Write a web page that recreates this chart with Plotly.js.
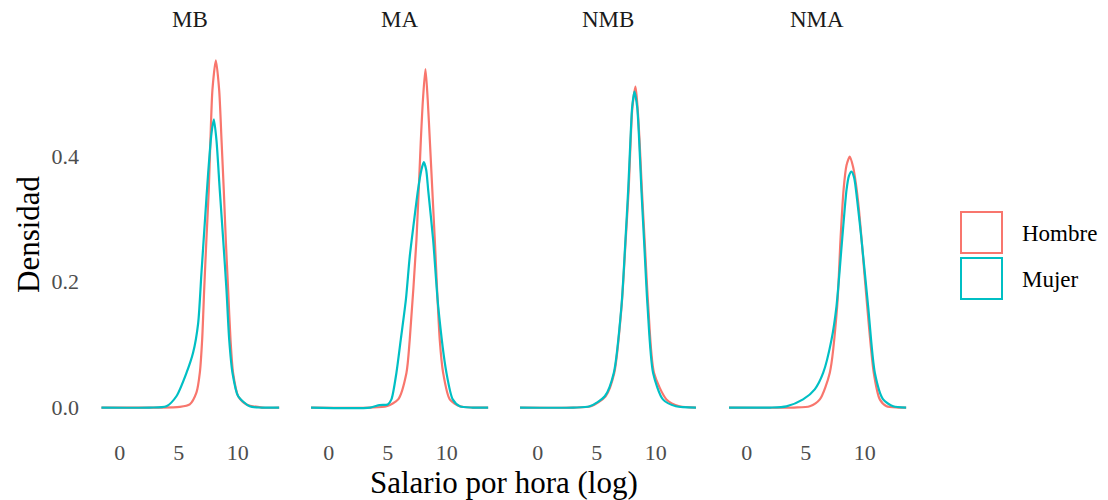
<!DOCTYPE html>
<html><head><meta charset="utf-8">
<script src="https://cdn.plot.ly/plotly-3.0.1.min.js"></script>
<style>html,body{margin:0;padding:0;background:#fff}#chart{width:1108px;height:500px}</style>
</head><body><div id="chart"></div>
<script>
const facets = ["MB", "MA", "NMB", "NMA"];
const groups = ["Hombre", "Mujer"];
const colors = {Hombre: "#F8766D", Mujer: "#00BFC4"};
const xTicks = [0, 5, 10];
const yTicks = [0, 0.2, 0.4];
const yTickLabels = ["0.0", "0.2", "0.4"];

// MB
const mbHombreX = [-1.55, 3.0, 5.08, 5.93, 6.5, 6.78, 6.98, 7.15, 7.34, 7.54, 7.68, 7.85, 8.14, 8.42, 8.62, 8.81, 8.98, 9.18, 9.38, 9.6, 10.03, 10.73, 12.1, 13.5];
const mbHombreY = [0, 0, 0.001, 0.005, 0.024, 0.055, 0.108, 0.187, 0.267, 0.346, 0.425, 0.505, 0.552, 0.505, 0.425, 0.346, 0.267, 0.187, 0.108, 0.055, 0.018, 0.005, 0, 0];
const mbMujerX = [-1.55, 2.5, 3.95, 4.8, 5.65, 6.21, 6.64, 6.92, 7.2, 7.49, 7.77, 7.97, 8.19, 8.47, 8.76, 9.04, 9.27, 9.55, 10.03, 11.0, 12.0, 13.5];
const mbMujerY = [0, 0, 0.002, 0.018, 0.055, 0.087, 0.134, 0.214, 0.293, 0.373, 0.436, 0.458, 0.425, 0.346, 0.267, 0.187, 0.108, 0.055, 0.018, 0.002, 0, 0];
// MA
const maHombreX = [-1.5, 3.5, 4.9, 5.88, 6.58, 6.86, 7.43, 7.8, 7.98, 8.19, 8.38, 8.56, 8.98, 9.4, 9.69, 10.25, 11.1, 12.2, 13.5];
const maHombreY = [0, 0, 0.002, 0.013, 0.055, 0.108, 0.267, 0.425, 0.49, 0.538, 0.49, 0.425, 0.267, 0.108, 0.055, 0.013, 0.002, 0, 0];
const maMujerX = [-1.5, 3.5, 4.3, 5.0, 5.31, 5.73, 6.1, 6.53, 6.86, 7.2, 7.56, 7.85, 8.05, 8.25, 8.42, 8.84, 9.27, 9.97, 10.5, 11.1, 12.2, 13.5];
const maMujerY = [0, 0, 0.004, 0.005, 0.013, 0.055, 0.108, 0.171, 0.24, 0.293, 0.346, 0.378, 0.39, 0.378, 0.346, 0.267, 0.161, 0.055, 0.013, 0.002, 0, 0];
// NMB
const nmbHombreX = [-1.5, 3.0, 4.5, 5.75, 6.48, 7.1, 7.45, 7.7, 7.87, 8.02, 8.28, 8.45, 8.62, 8.82, 9.05, 9.36, 9.85, 10.9, 12.0, 13.4];
const nmbHombreY = [0, 0, 0.002, 0.018, 0.055, 0.161, 0.267, 0.346, 0.425, 0.478, 0.51, 0.478, 0.425, 0.346, 0.267, 0.161, 0.055, 0.013, 0.002, 0];
const nmbMujerX = [-1.5, 3.0, 4.4, 5.68, 6.44, 7.09, 7.43, 7.66, 7.85, 8.0, 8.19, 8.42, 8.59, 8.78, 9.0, 9.3, 9.77, 10.6, 11.7, 13.4];
const nmbMujerY = [0, 0, 0.002, 0.018, 0.055, 0.161, 0.267, 0.346, 0.425, 0.478, 0.502, 0.478, 0.425, 0.346, 0.267, 0.161, 0.055, 0.013, 0.002, 0];
// NMA
const nmaHombreX = [-1.5, 4.0, 5.34, 6.19, 7.03, 7.66, 7.94, 8.2, 8.45, 8.73, 9.0, 9.25, 9.5, 9.75, 10.2, 10.76, 11.27, 11.84, 12.8, 13.5];
const nmaHombreY = [0, 0, 0.002, 0.013, 0.055, 0.161, 0.267, 0.346, 0.385, 0.399, 0.383, 0.355, 0.315, 0.262, 0.161, 0.055, 0.013, 0.002, 0, 0];
const nmaMujerX = [-1.5, 2.0, 3.36, 4.77, 5.76, 6.47, 7.18, 7.6, 8.08, 8.45, 8.65, 8.87, 9.1, 9.35, 9.72, 10.28, 10.85, 11.55, 12.4, 13.5];
const nmaMujerY = [0, 0, 0.002, 0.013, 0.029, 0.055, 0.108, 0.161, 0.267, 0.346, 0.368, 0.375, 0.365, 0.33, 0.267, 0.161, 0.055, 0.013, 0.002, 0];

const series = {
  MB: {Hombre: [mbHombreX, mbHombreY], Mujer: [mbMujerX, mbMujerY]},
  MA: {Hombre: [maHombreX, maHombreY], Mujer: [maMujerX, maMujerY]},
  NMB: {Hombre: [nmbHombreX, nmbHombreY], Mujer: [nmbMujerX, nmbMujerY]},
  NMA: {Hombre: [nmaHombreX, nmaHombreY], Mujer: [nmaMujerX, nmaMujerY]}
};

const FONT = "Liberation Serif, Times New Roman, serif";
const L = 92, R = 193, T = 42, B = 75, W = 1108, H = 500;
const PW = W - L - R, PH = H - T - B;
const panelW = 196, step = 209;

const traces = [];
const layout = {
  width: W, height: H,
  margin: {l: L, r: R, t: T, b: B, pad: 0},
  paper_bgcolor: "#fff", plot_bgcolor: "#fff",
  showlegend: false,
  font: {family: FONT, color: "#4D4D4D"},
  annotations: [], shapes: []
};
facets.forEach((f, i) => {
  const ax = i === 0 ? "" : String(i + 1);
  groups.forEach(g => {
    traces.push({
      type: "scatter", mode: "lines",
      x: series[f][g][0], y: series[f][g][1],
      xaxis: "x" + ax, yaxis: "y" + ax,
      name: g,
      line: {color: colors[g], width: 2.2, shape: "spline", smoothing: 0.7},
      hoverinfo: "skip"
    });
  });
  const d0 = (i * step) / PW, d1 = (i * step + panelW) / PW;
  layout["xaxis" + ax] = {
    domain: [d0, Math.min(d1, 1)], range: [-2.35, 14.25],
    tickvals: xTicks, ticktext: xTicks.map(String),
    showgrid: false, zeroline: false, showline: false, ticks: "",
    ticklabelstandoff: 12,
    tickfont: {family: FONT, size: 22, color: "#4D4D4D"},
    anchor: "y" + ax
  };
  layout["yaxis" + ax] = {
    domain: [0, 1], range: [-0.0277, 0.581],
    tickvals: yTicks, ticktext: yTickLabels,
    showticklabels: i === 0,
    showgrid: false, zeroline: false, showline: false, ticks: "",
    ticklabelstandoff: 12,
    tickfont: {family: FONT, size: 22, color: "#4D4D4D"},
    anchor: "x" + ax
  };
  layout.annotations.push({
    text: f, xref: "paper", yref: "paper",
    x: (d0 + d1) / 2, y: 1 + 22 / PH, xanchor: "center", yanchor: "middle",
    showarrow: false, font: {family: FONT, size: 23, color: "#1A1A1A"}
  });
});
// axis titles
layout.annotations.push({
  text: "Salario por hora (log)", xref: "paper", yref: "paper",
  x: 0.5, y: -(482 - (T + PH)) / PH, xanchor: "center", yanchor: "middle",
  showarrow: false, font: {family: FONT, size: 31, color: "#000"}
});
layout.annotations.push({
  text: "Densidad", xref: "paper", yref: "paper", textangle: -90,
  x: -(L - 28) / PW, y: (T + PH - 234) / PH, xanchor: "center", yanchor: "middle",
  showarrow: false, font: {family: FONT, size: 31, color: "#000"}
});
// legend (manual keys)
const px2x = p => (p - L) / PW, px2y = p => (T + PH - p) / PH;
const keyTops = [211, 257];
groups.forEach((g, k) => {
  layout.shapes.push({
    type: "rect", xref: "paper", yref: "paper",
    x0: px2x(961), x1: px2x(1002), y0: px2y(keyTops[k] + 42), y1: px2y(keyTops[k] + 1),
    line: {color: colors[g], width: 2}, fillcolor: "#fff"
  });
  layout.annotations.push({
    text: g, xref: "paper", yref: "paper",
    x: px2x(1020), y: px2y(keyTops[k] + 22), xanchor: "left", yanchor: "middle",
    showarrow: false, font: {family: FONT, size: 23, color: "#000"}
  });
});
Plotly.newPlot("chart", traces, layout, {staticPlot: true, displayModeBar: false});
</script></body></html>
